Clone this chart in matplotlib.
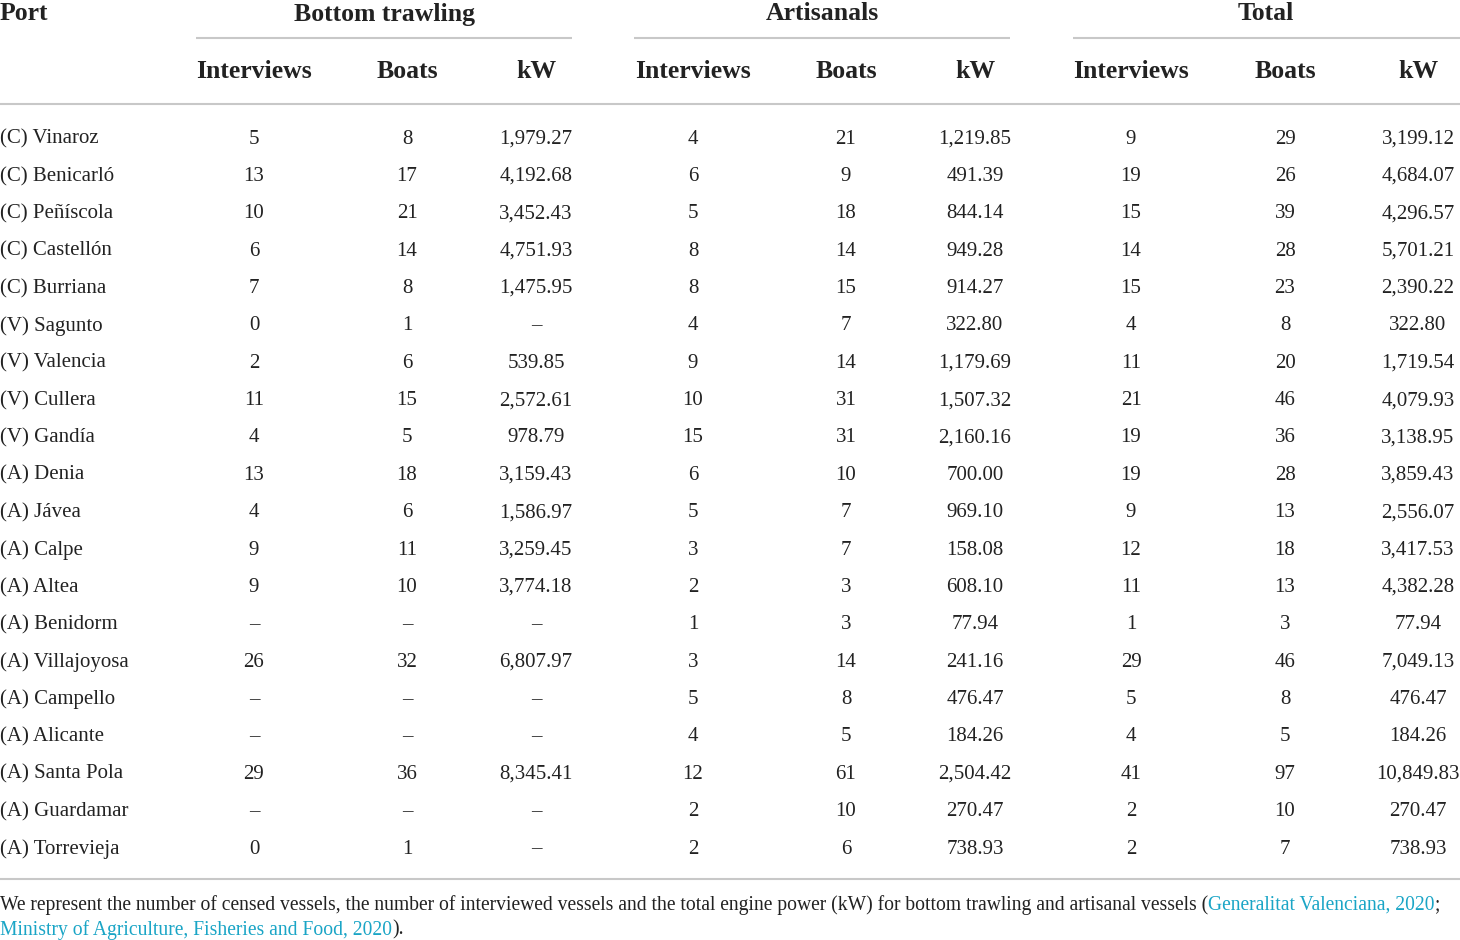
import matplotlib
matplotlib.use("Agg")
import matplotlib.pyplot as plt

# table data
ports = ["(C) Vinaroz", "(C) Benicarló", "(C) Peñíscola", "(C) Castellón", "(C) Burriana",
         "(V) Sagunto", "(V) Valencia", "(V) Cullera", "(V) Gandía", "(A) Denia",
         "(A) Jávea", "(A) Calpe", "(A) Altea", "(A) Benidorm", "(A) Villajoyosa",
         "(A) Campello", "(A) Alicante", "(A) Santa Pola", "(A) Guardamar", "(A) Torrevieja"]
bt_interviews = ["5", "13", "10", "6", "7", "0", "2", "11", "4", "13", "4", "9", "9", "–", "26", "–", "–", "29", "–", "0"]
bt_boats = ["8", "17", "21", "14", "8", "1", "6", "15", "5", "18", "6", "11", "10", "–", "32", "–", "–", "36", "–", "1"]
bt_kw = ["1,979.27", "4,192.68", "3,452.43", "4,751.93", "1,475.95", "–", "539.85", "2,572.61", "978.79", "3,159.43",
         "1,586.97", "3,259.45", "3,774.18", "–", "6,807.97", "–", "–", "8,345.41", "–", "–"]
art_interviews = ["4", "6", "5", "8", "8", "4", "9", "10", "15", "6", "5", "3", "2", "1", "3", "5", "4", "12", "2", "2"]
art_boats = ["21", "9", "18", "14", "15", "7", "14", "31", "31", "10", "7", "7", "3", "3", "14", "8", "5", "61", "10", "6"]
art_kw = ["1,219.85", "491.39", "844.14", "949.28", "914.27", "322.80", "1,179.69", "1,507.32", "2,160.16", "700.00",
          "969.10", "158.08", "608.10", "77.94", "241.16", "476.47", "184.26", "2,504.42", "270.47", "738.93"]
tot_interviews = ["9", "19", "15", "14", "15", "4", "11", "21", "19", "19", "9", "12", "11", "1", "29", "5", "4", "41", "2", "2"]
tot_boats = ["29", "26", "39", "28", "23", "8", "20", "46", "36", "28", "13", "18", "13", "3", "46", "8", "5", "97", "10", "7"]
tot_kw = ["3,199.12", "4,684.07", "4,296.57", "5,701.21", "2,390.22", "322.80", "1,719.54", "4,079.93", "3,138.95", "3,859.43",
          "2,556.07", "3,417.53", "4,382.28", "77.94", "7,049.13", "476.47", "184.26", "10,849.83", "270.47", "738.93"]

groups = ["Bottom trawling", "Artisanals", "Total"]
subheaders = ["Interviews", "Boats", "kW"]

note_black = "We represent the number of censed vessels, the number of interviewed vessels and the total engine power (kW) for bottom trawling and artisanal vessels ("
note_link1 = "Generalitat Valenciana, 2020"
note_link2 = "Ministry of Agriculture, Fisheries and Food, 2020"

columns = [bt_interviews, bt_boats, bt_kw, art_interviews, art_boats, art_kw,
           tot_interviews, tot_boats, tot_kw]

plt.rcParams['font.family'] = ['Liberation Serif', 'DejaVu Serif']
fig = plt.figure(figsize=(14.6, 9.4), dpi=100)
ax = fig.add_axes([0, 0, 1, 1])
ax.set_xlim(0, 1460)
ax.set_ylim(940, 0)
ax.axis("off")

txt = "#222222"
line_col = "#c8c8c8"
link_col = "#1aa5c6"
body_fs = 15
head_fs = 18.5

col_x = [254, 407, 536, 693, 846, 975, 1131, 1285, 1418]
group_x = [384, 822, 1266]
group_spans = [(196, 572), (634, 1010), (1073, 1460)]

# header
ax.text(0, 14, "Port", fontsize=head_fs, fontweight="bold", color=txt, ha="left", va="center")
for g, gx, (a, b) in zip(groups, group_x, group_spans):
    ax.text(gx, 14, g, fontsize=head_fs, fontweight="bold", color=txt, ha="center", va="center")
    ax.plot([a, b], [38, 38], color=line_col, lw=1.5, solid_capstyle="butt")
for i, cx in enumerate(col_x):
    ax.text(cx, 72, subheaders[i % 3], fontsize=head_fs, fontweight="bold", color=txt, ha="center", va="center")
ax.plot([0, 1460], [104, 104], color=line_col, lw=1.5)

# body
row_y0, row_dy = 139, 37.37
for r, port in enumerate(ports):
    y = row_y0 + r * row_dy
    ax.text(0, y, port, fontsize=body_fs, color=txt, ha="left", va="center")
    for cx, col in zip(col_x, columns):
        ax.text(cx, y, col[r], fontsize=body_fs, color=txt, ha="center", va="center")
ax.plot([0, 1460], [879, 879], color=line_col, lw=1.5)

# footnote with coloured citations
fig.canvas.draw()
renderer = fig.canvas.get_renderer()
inv = ax.transData.inverted()

def put(x, y, s, color):
    t = ax.text(x, y, s, fontsize=14.1, color=color, ha="left", va="center")
    bb = t.get_window_extent(renderer)
    return inv.transform((bb.x1, bb.y0))[0]

x = put(0, 905, note_black, txt)
x = put(x, 905, note_link1, link_col)
put(x, 905, ";", txt)
x = put(0, 930, note_link2, link_col)
put(x, 930, ").", txt)

fig.savefig("out.png", dpi=100)
